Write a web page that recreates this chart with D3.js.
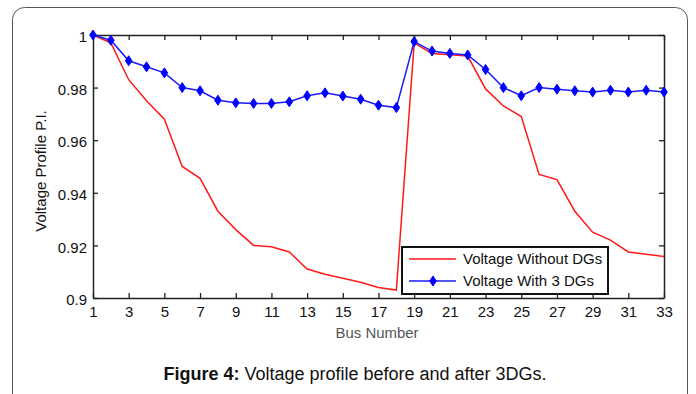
<!DOCTYPE html>
<html>
<head>
<meta charset="utf-8">
<script src="https://cdn.jsdelivr.net/npm/d3@7"></script>
<style>
  body { margin: 0; background: #fff; }
  svg { display: block; font-family: "Liberation Sans", Arial, sans-serif; }
</style>
</head>
<body>
<svg id="chart" width="696" height="394"></svg>
<script>
// bus numbers 1..33
var buses = [1, 2, 3, 4, 5, 6, 7, 8, 9, 10, 11, 12, 13, 14, 15, 16, 17,
             18, 19, 20, 21, 22, 23, 24, 25, 26, 27, 28, 29, 30, 31, 32, 33];

var withoutDGs = [1.0, 0.997, 0.983, 0.975, 0.968, 0.950, 0.9455, 0.933, 0.926, 0.920, 0.9195,
                  0.9175, 0.911, 0.909, 0.9075, 0.906, 0.904, 0.903, 0.997, 0.993, 0.9925,
                  0.992, 0.9795, 0.973, 0.969, 0.947, 0.945, 0.933, 0.925, 0.922, 0.9175,
                  0.9166, 0.9158];

var with3DGs = [1.0, 0.998, 0.9902, 0.9879, 0.9856, 0.980, 0.9788, 0.9752, 0.9742, 0.974, 0.974,
                0.9746, 0.9769, 0.978, 0.9768, 0.9756, 0.9733, 0.9724, 0.9975, 0.9939, 0.993,
                0.9924, 0.9869, 0.980, 0.9769, 0.980, 0.9794, 0.9788, 0.9783, 0.979, 0.9783,
                0.979, 0.9783];

var xTicks = [1, 3, 5, 7, 9, 11, 13, 15, 17, 19, 21, 23, 25, 27, 29, 31, 33];
var yTicks = [0.9, 0.92, 0.94, 0.96, 0.98, 1];

var seriesNames = ["Voltage Without DGs", "Voltage With 3 DGs"];

var svg = d3.select("#chart");

// outer rounded frame
svg.append("rect")
  .attr("x", 12.5).attr("y", 7.5)
  .attr("width", 675).attr("height", 420)
  .attr("rx", 12)
  .attr("fill", "none")
  .attr("stroke", "#555")
  .attr("stroke-width", 1);

var plotLeft = 93, plotRight = 664, plotTop = 35, plotBottom = 298;

var xScale = d3.scaleLinear().domain([1, 33]).range([plotLeft, plotRight]);
var yScale = d3.scaleLinear().domain([0.9, 1]).range([plotBottom, plotTop]);

var g = svg.append("g");

// axes, ticks inward
var fmt = d => d === 1 ? "1" : d === 0.9 ? "0.9" : d3.format(".2f")(d);

var gX = g.append("g").attr("transform", "translate(0," + plotBottom + ")")
  .call(d3.axisBottom(xScale).tickValues(xTicks).tickSizeInner(-5).tickSizeOuter(0).tickPadding(9));
var gXt = g.append("g").attr("transform", "translate(0," + plotTop + ")")
  .call(d3.axisTop(xScale).tickValues(xTicks).tickSizeInner(-5).tickSizeOuter(0).tickFormat(""));
var gY = g.append("g").attr("transform", "translate(" + plotLeft + ",0)")
  .call(d3.axisLeft(yScale).tickValues(yTicks).tickSizeInner(-5).tickSizeOuter(0).tickPadding(6).tickFormat(fmt));
var gYr = g.append("g").attr("transform", "translate(" + plotRight + ",0)")
  .call(d3.axisRight(yScale).tickValues(yTicks).tickSizeInner(-5).tickSizeOuter(0).tickFormat(""));

[gX, gXt, gY, gYr].forEach(a => {
  a.select(".domain").attr("stroke", "#222").attr("stroke-width", 1.5);
  a.selectAll(".tick line").attr("stroke", "#222").attr("stroke-width", 1.3);
  a.selectAll(".tick text").attr("fill", "#111").style("font-size", "15px")
    .style("font-family", "'Liberation Sans', Arial, sans-serif");
});
gX.selectAll(".tick text").attr("y", 8).attr("dy", "0.71em");
gY.selectAll(".tick text").attr("x", -6).attr("dy", "0.45em");

// lines
var lineGen = d3.line()
  .x((d, i) => xScale(buses[i]))
  .y(d => yScale(d));

g.append("path")
  .attr("d", lineGen(withoutDGs))
  .attr("fill", "none")
  .attr("stroke", "#ff1a1a")
  .attr("stroke-width", 1.5);

g.append("path")
  .attr("d", lineGen(with3DGs))
  .attr("fill", "none")
  .attr("stroke", "#1a1aff")
  .attr("stroke-width", 1.5);

var marker = "M0,-5L3.3,0L0,5L-3.3,0Z";
g.selectAll(".mk")
  .data(with3DGs)
  .join("path")
  .attr("class", "mk")
  .attr("d", marker)
  .attr("transform", (d, i) => "translate(" + xScale(buses[i]) + "," + yScale(d) + ")")
  .attr("fill", "#0000ff")
  .attr("stroke", "#0000ff")
  .attr("stroke-width", 1);

// legend
var leg = g.append("g");
leg.append("rect")
  .attr("x", 402).attr("y", 247)
  .attr("width", 206).attr("height", 47)
  .attr("fill", "#fff")
  .attr("stroke", "#111")
  .attr("stroke-width", 2);

var legColors = ["#ff1a1a", "#1a1aff"];
seriesNames.forEach((name, i) => {
  var ly = 259 + i * 22;
  leg.append("line")
    .attr("x1", 409).attr("x2", 456)
    .attr("y1", ly).attr("y2", ly)
    .attr("stroke", legColors[i]).attr("stroke-width", 1.5);
  if (i === 1) {
    leg.append("path").attr("d", marker)
      .attr("transform", "translate(433," + ly + ")")
      .attr("fill", "#0000ff").attr("stroke", "#0000ff");
  }
  leg.append("text")
    .attr("x", 463).attr("y", ly + 5)
    .attr("fill", "#111")
    .style("font-size", "15px")
    .text(name);
});

// axis labels
svg.append("text")
  .attr("x", 377).attr("y", 338)
  .attr("text-anchor", "middle")
  .attr("fill", "#555")
  .attr("textLength", 83)
  .attr("lengthAdjust", "spacingAndGlyphs")
  .style("font-size", "14px")
  .text("Bus Number");

svg.append("text")
  .attr("transform", "translate(46,171) rotate(-90)")
  .attr("text-anchor", "middle")
  .attr("fill", "#111")
  .style("font-size", "15px")
  .text("Voltage Profile P.I.");

// caption
var cap = svg.append("text")
  .attr("x", 355).attr("y", 380)
  .attr("text-anchor", "middle")
  .attr("fill", "#111")
  .style("font-size", "18px");
cap.append("tspan").attr("font-weight", "bold").text("Figure 4:");
cap.append("tspan").text(" Voltage profile before and after 3DGs.");
</script>
</body>
</html>
